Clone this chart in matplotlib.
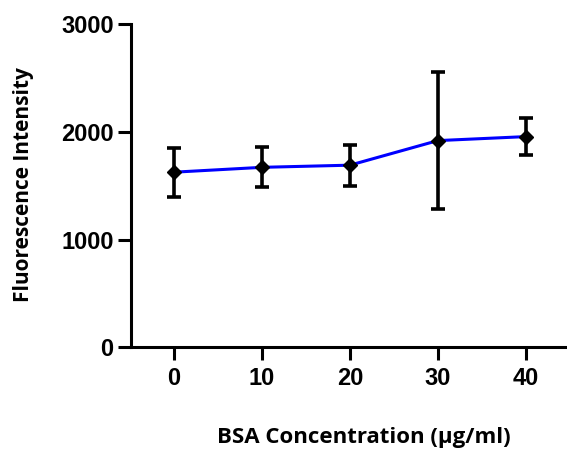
import matplotlib
matplotlib.use("Agg")
import matplotlib.pyplot as plt

conc = [0, 10, 20, 30, 40]
intensity = [1625, 1670, 1690, 1918, 1955]
err = [228, 187, 190, 637, 175]
yticks = [0, 1000, 2000, 3000]

plt.rcParams["font.family"] = ["Liberation Sans", "DejaVu Sans"]
plt.rcParams["font.weight"] = "bold"

fig = plt.figure(figsize=(5.67, 4.51), dpi=100)
ax = fig.add_axes([131/567, 1-347.3/451, (567-131)/567, (347.3-24)/451])

ax.errorbar(conc, intensity, yerr=err, color="#0000ff", lw=2.2,
            ecolor="black", elinewidth=2.6, capsize=5, capthick=2.6,
            marker="D", markersize=6.8, mfc="black", mec="black", zorder=3)

ax.set_xlim(-4.9, 44.7)
ax.set_ylim(0, 3000)
ax.set_xticks(conc)
ax.set_yticks(yticks)
ax.spines["top"].set_visible(False)
ax.spines["right"].set_visible(False)
for s in ["left", "bottom"]:
    ax.spines[s].set_linewidth(2.2)
ax.tick_params(width=2.2, length=9.5, labelsize=17)
ax.tick_params(axis="x", pad=5)
ax.tick_params(axis="y", pad=3)

fig.text(24/567, 1-185/451, "Fluorescence Intensity", rotation=90, ha="center", va="center",
         fontfamily="Open Sans", fontweight="bold", fontsize=15)
fig.text(364/567, 1-438/451, "BSA Concentration (\u03bcg/ml)", ha="center", va="center",
         fontfamily="Open Sans", fontweight="bold", fontsize=16)

fig.savefig("out.png", dpi=100)
